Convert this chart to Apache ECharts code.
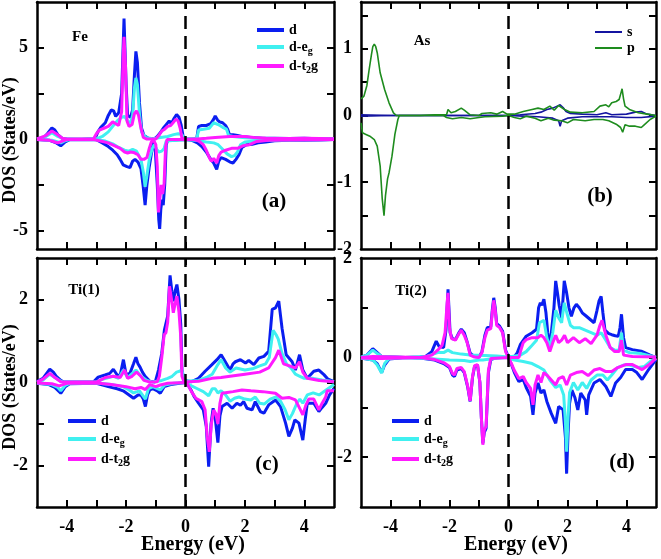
<!DOCTYPE html>
<html>
<head>
<meta charset="utf-8">
<script src="https://cdn.jsdelivr.net/npm/echarts@6/dist/echarts.min.js"></script>
<style>html,body{margin:0;padding:0;background:#fff;}#chart{width:661px;height:559px;}</style>
</head>
<body>
<div id="chart"></div>
<script>
// ---------- axis ticks / labels ----------
const energyTicks = [-4, -3, -2, -1, 0, 1, 2, 3, 4];
const energyLabels = [-4, -2, 0, 2, 4];
const feYTicks = [-5, -2.5, 0, 2.5, 5];
const feYLabels = [-5, 0, 5];
const asYTicks = [-1.5, -1, -0.5, 0, 0.5, 1, 1.5];
const asYLabels = [-2, -1, 0, 1];
const ti1YTicks = [-2, -1, 0, 1, 2];
const ti1YLabels = [-2, 0, 2];
const ti2YTicks = [-2, -1, 0, 1];
const ti2YLabels = [-2, 0, 2];
const dNames = ['d', 'd-eg', 'd-t2g'];
const asNames = ['s', 'p'];

// ---------- Fe ----------
const feDUp = [[-5,0.02],[-4.8,0.05],[-4.65,0.3],[-4.5,0.62],[-4.4,0.5],[-4.3,0.25],[-4.15,0.05],[-4.0,0.01],[-3.5,0],[-3.05,0.02],[-2.95,0.4],[-2.85,0.65],[-2.7,0.9],[-2.6,1.3],[-2.5,1.6],[-2.42,1.55],[-2.35,1.25],[-2.25,1.45],[-2.15,2.5],[-2.07,6.6],[-2.0,3.0],[-1.95,1.3],[-1.85,1.2],[-1.78,1.6],[-1.72,3.5],[-1.67,4.8],[-1.62,4.2],[-1.55,2.0],[-1.48,0.6],[-1.4,0.2],[-1.25,0.05],[-1.05,0.02],[-0.95,0.15],[-0.85,0.35],[-0.75,0.6],[-0.65,0.8],[-0.55,1.0],[-0.48,0.85],[-0.4,1.1],[-0.3,1.35],[-0.22,1.2],[-0.15,0.8],[-0.08,0.15],[0,0.02],[0.2,0.01],[0.38,0.05],[0.44,0.7],[0.55,0.75],[0.7,0.75],[0.85,0.85],[0.95,1.1],[1.0,1.27],[1.08,1.05],[1.15,0.95],[1.25,0.9],[1.35,0.75],[1.42,0.55],[1.48,0.25],[1.6,0.25],[1.75,0.2],[1.9,0.15],[2.2,0.1],[2.6,0.05],[3.0,0.05],[3.5,0.04],[4.0,0.05],[4.5,0.03],[5,0.02]];
const feEgUp = [[-5,0.02],[-4.7,0.15],[-4.5,0.35],[-4.3,0.15],[-4.1,0.02],[-3.5,0],[-3.0,0.02],[-2.8,0.15],[-2.6,0.4],[-2.45,0.7],[-2.3,1.0],[-2.15,1.2],[-2.05,1.25],[-1.95,1.0],[-1.85,0.9],[-1.78,1.3],[-1.72,2.8],[-1.67,3.35],[-1.62,3.0],[-1.55,1.4],[-1.48,0.4],[-1.35,0.1],[-1.1,0.03],[-0.9,0.08],[-0.6,0.15],[-0.4,0.25],[-0.25,0.3],[-0.12,0.25],[-0.05,0.05],[0,0.02],[0.38,0.03],[0.44,0.5],[0.6,0.55],[0.8,0.6],[0.95,0.9],[1.0,1.0],[1.1,0.8],[1.25,0.65],[1.38,0.55],[1.45,0.2],[1.6,0.15],[2.0,0.08],[2.5,0.04],[3,0.03],[4,0.03],[5,0.02]];
const feT2gUp = [[-5,0.02],[-4.7,0.2],[-4.5,0.45],[-4.35,0.3],[-4.15,0.05],[-4.0,0.01],[-3.1,0.01],[-3.0,0.3],[-2.9,0.5],[-2.75,0.6],[-2.6,0.7],[-2.45,0.95],[-2.35,0.85],[-2.25,0.75],[-2.15,1.5],[-2.1,4.5],[-2.07,5.6],[-2.02,4.0],[-1.97,1.0],[-1.9,0.7],[-1.8,0.8],[-1.72,1.4],[-1.65,1.55],[-1.58,1.3],[-1.5,0.6],[-1.42,0.1],[-1.3,0.01],[-1.0,0.01],[-0.9,0.2],[-0.8,0.45],[-0.7,0.55],[-0.6,0.7],[-0.5,0.75],[-0.42,0.9],[-0.32,1.1],[-0.25,1.0],[-0.18,0.6],[-0.12,0.05],[0,0.01],[0.4,0.01],[0.7,0.05],[1.0,0.1],[1.5,0.15],[2.0,0.15],[2.3,0.1],[2.7,0.05],[3.5,0.04],[4.0,0.05],[5,0.02]];
const feDDown = [[-5,-0.02],[-4.6,-0.05],[-4.35,-0.2],[-4.2,-0.36],[-4.05,-0.15],[-3.9,-0.03],[-3.0,-0.02],[-2.8,-0.2],[-2.6,-0.4],[-2.45,-0.6],[-2.3,-0.85],[-2.2,-1.1],[-2.1,-1.4],[-1.97,-1.5],[-1.87,-1.55],[-1.78,-1.2],[-1.7,-1.1],[-1.6,-1.25],[-1.5,-1.6],[-1.43,-2.5],[-1.36,-3.6],[-1.3,-2.5],[-1.22,-1.5],[-1.15,-0.8],[-1.08,-0.15],[-1.02,-0.5],[-0.95,-2.5],[-0.9,-4.4],[-0.87,-4.9],[-0.83,-3.8],[-0.79,-3.3],[-0.75,-3.6],[-0.7,-2.5],[-0.65,-0.3],[-0.6,-0.05],[0,-0.02],[0.2,-0.05],[0.4,-0.2],[0.55,-0.4],[0.7,-0.7],[0.85,-1.1],[0.95,-1.3],[1.05,-1.65],[1.12,-1.2],[1.2,-1.0],[1.35,-1.1],[1.5,-1.25],[1.6,-1.3],[1.7,-1.1],[1.8,-0.85],[1.9,-0.45],[2.05,-0.3],[2.25,-0.27],[2.45,-0.2],[2.7,-0.15],[3.0,-0.08],[3.5,-0.06],[4.0,-0.06],[4.5,-0.04],[5,-0.02]];
const feEgDown = [[-5,-0.01],[-4.5,-0.05],[-4.3,-0.15],[-4.2,-0.2],[-4.05,-0.08],[-3.9,-0.02],[-3.0,-0.01],[-2.7,-0.1],[-2.45,-0.25],[-2.25,-0.45],[-2.05,-0.6],[-1.9,-0.65],[-1.78,-0.55],[-1.65,-0.65],[-1.5,-1.1],[-1.42,-1.8],[-1.36,-2.6],[-1.3,-2.0],[-1.22,-1.1],[-1.12,-0.5],[-1.05,-0.3],[-0.97,-0.55],[-0.9,-0.7],[-0.8,-0.65],[-0.72,-0.5],[-0.65,-0.1],[-0.6,-0.02],[0,-0.01],[0.3,-0.05],[0.5,-0.1],[0.7,-0.15],[0.95,-0.2],[1.1,-0.3],[1.25,-0.55],[1.4,-0.8],[1.55,-0.95],[1.65,-0.9],[1.75,-0.7],[1.85,-0.3],[2.0,-0.15],[2.3,-0.1],[2.8,-0.06],[3.5,-0.04],[4.5,-0.03],[5,-0.02]];
const feT2gDown = [[-5,-0.01],[-4.6,-0.05],[-4.4,-0.15],[-4.3,-0.2],[-4.15,-0.1],[-4.0,-0.02],[-3.1,-0.01],[-2.9,-0.08],[-2.6,-0.2],[-2.4,-0.35],[-2.2,-0.5],[-2.05,-0.7],[-1.95,-0.75],[-1.85,-0.7],[-1.75,-0.72],[-1.6,-0.85],[-1.5,-1.1],[-1.4,-1.1],[-1.3,-1.0],[-1.22,-0.5],[-1.15,-0.15],[-1.08,-0.02],[-1.0,-0.3],[-0.95,-1.5],[-0.91,-4.0],[-0.86,-3.2],[-0.82,-2.5],[-0.77,-3.0],[-0.72,-2.4],[-0.67,-0.4],[-0.62,-0.02],[0,-0.01],[0.3,-0.02],[0.45,-0.1],[0.6,-0.3],[0.7,-0.6],[0.8,-1.0],[0.87,-1.2],[0.95,-1.05],[1.05,-1.3],[1.12,-0.9],[1.2,-0.7],[1.35,-0.6],[1.55,-0.5],[1.75,-0.5],[1.95,-0.35],[2.15,-0.3],[2.4,-0.12],[2.8,-0.05],[3.5,-0.04],[4.5,-0.03],[5,-0.01]];

// ---------- As ----------
const asSUp = [[-5,0.01],[-4,0.0],[-1,0.0],[0,0],[0.4,0.01],[0.9,0.03],[1.1,0.05],[1.3,0.09],[1.5,0.11],[1.65,0.14],[1.75,0.16],[1.85,0.12],[1.95,0.06],[2.1,0.03],[2.5,0.02],[3.0,0.01],[3.3,0.04],[3.5,0.01],[4.0,0.02],[4.3,0.05],[4.5,0.06],[4.7,0.02],[5,0.0]];
const asSDown = [[-5,-0.01],[-4,0.0],[0,0],[0.5,-0.01],[1.0,-0.02],[1.5,-0.04],[1.7,-0.08],[1.75,-0.16],[1.8,-0.08],[2.0,-0.04],[2.5,-0.02],[3.5,-0.02],[4.0,-0.03],[4.5,-0.03],[5,-0.01]];
const asPUp = [[-5,0.25],[-4.9,0.29],[-4.8,0.45],[-4.72,0.7],[-4.65,0.9],[-4.6,1.03],[-4.55,1.07],[-4.5,1.03],[-4.45,0.94],[-4.35,0.64],[-4.2,0.39],[-4.05,0.19],[-3.9,0.04],[-3.8,0.0],[-3,0.0],[-2.5,0.01],[-2.1,0.01],[-2.05,0.09],[-1.95,0.04],[-1.8,0.06],[-1.6,0.11],[-1.5,0.08],[-1.3,0.01],[-1.0,0.0],[-0.9,0.03],[-0.6,0.04],[-0.4,0.02],[-0.2,0.06],[-0.05,0.02],[0,0],[0.2,0.02],[0.5,0.06],[0.8,0.09],[1.0,0.11],[1.2,0.09],[1.4,0.14],[1.55,0.08],[1.7,0.15],[1.9,0.09],[2.1,0.05],[2.5,0.04],[2.9,0.06],[3.1,0.14],[3.3,0.16],[3.4,0.13],[3.5,0.19],[3.65,0.21],[3.75,0.24],[3.82,0.35],[3.85,0.4],[3.9,0.25],[3.95,0.14],[4.1,0.09],[4.4,0.04],[4.7,0.02],[5,0.0]];
const asPDown = [[-5,-0.11],[-4.95,-0.26],[-4.85,-0.28],[-4.7,-0.31],[-4.55,-0.36],[-4.45,-0.46],[-4.35,-0.76],[-4.28,-1.25],[-4.22,-1.5],[-4.17,-1.2],[-4.1,-0.95],[-4.05,-0.86],[-3.95,-0.61],[-3.85,-0.28],[-3.75,-0.06],[-3.7,0],[-2.2,0],[-2.1,-0.03],[-1.9,-0.05],[-1.6,-0.03],[-1.3,-0.05],[-1.0,-0.03],[-0.8,-0.02],[-0.2,-0.01],[0,0],[0.2,-0.03],[0.4,-0.05],[0.6,-0.01],[0.9,-0.04],[1.1,-0.08],[1.35,-0.04],[1.55,-0.07],[1.8,-0.08],[2.0,-0.11],[2.2,-0.06],[2.6,-0.08],[2.9,-0.06],[3.2,-0.06],[3.4,-0.08],[3.65,-0.13],[3.8,-0.18],[3.87,-0.25],[3.95,-0.14],[4.1,-0.16],[4.3,-0.16],[4.5,-0.18],[4.6,-0.14],[4.8,-0.06],[5,-0.01]];

// ---------- Ti(1) ----------
const ti1DUp = [[-5,0.02],[-4.8,0.1],[-4.57,0.32],[-4.45,0.25],[-4.35,0.15],[-4.2,0.05],[-4.1,0.01],[-3.1,0.01],[-2.94,0.13],[-2.71,0.18],[-2.55,0.22],[-2.43,0.32],[-2.3,0.18],[-2.2,0.17],[-2.09,0.55],[-2.0,0.19],[-1.87,0.22],[-1.75,0.45],[-1.67,0.61],[-1.6,0.45],[-1.53,0.37],[-1.45,0.25],[-1.36,0.15],[-1.2,0.03],[-1.02,0.01],[-0.91,0.3],[-0.8,0.7],[-0.71,1.27],[-0.65,1.25],[-0.6,1.6],[-0.52,2.58],[-0.46,2.2],[-0.41,1.96],[-0.35,2.2],[-0.29,2.36],[-0.22,2.0],[-0.16,1.4],[-0.12,0.3],[-0.05,0.05],[0,0.02],[0.21,0.02],[0.44,0.1],[0.66,0.27],[0.89,0.43],[1.06,0.55],[1.2,0.67],[1.34,0.5],[1.5,0.3],[1.6,0.45],[1.68,0.5],[1.85,0.55],[2.02,0.47],[2.13,0.53],[2.3,0.43],[2.47,0.59],[2.64,0.63],[2.8,0.75],[2.92,1.76],[3.03,1.8],[3.14,1.96],[3.25,1.31],[3.39,0.67],[3.59,0.5],[3.7,0.3],[3.84,0.67],[3.95,0.3],[4.1,0.1],[4.32,0.27],[4.49,0.3],[4.66,0.19],[4.8,0.08],[5,0.02]];
const ti1EgUp = [[-5,0.01],[-4.8,0.06],[-4.57,0.2],[-4.4,0.12],[-4.2,0.03],[-4.1,0.01],[-3.0,0.01],[-2.8,0.08],[-2.43,0.15],[-2.25,0.1],[-2.09,0.3],[-1.95,0.12],[-1.67,0.3],[-1.5,0.15],[-1.3,0.05],[-1.1,0.01],[-0.8,0.05],[-0.6,0.1],[-0.45,0.15],[-0.3,0.25],[-0.2,0.27],[-0.13,0.3],[-0.08,0.2],[-0.03,0.03],[0,0.01],[0.44,0.05],[0.7,0.12],[0.9,0.2],[1.06,0.4],[1.2,0.55],[1.35,0.35],[1.5,0.25],[1.7,0.35],[2.0,0.3],[2.25,0.33],[2.5,0.4],[2.7,0.45],[2.82,0.6],[2.95,1.26],[3.05,1.15],[3.12,1.05],[3.25,0.7],[3.4,0.45],[3.55,0.35],[3.7,0.2],[3.85,0.15],[4.0,0.1],[4.3,0.1],[4.6,0.06],[5,0.02]];
const ti1T2gUp = [[-5,0.01],[-4.8,0.08],[-4.57,0.22],[-4.4,0.12],[-4.2,0.02],[-3.0,0.01],[-2.8,0.08],[-2.7,0.12],[-2.43,0.15],[-2.2,0.12],[-2.05,0.3],[-1.95,0.1],[-1.8,0.15],[-1.65,0.25],[-1.5,0.15],[-1.4,0.05],[-1.2,0.01],[-0.95,0.02],[-0.88,0.15],[-0.8,0.6],[-0.72,1.15],[-0.66,1.2],[-0.6,1.45],[-0.54,2.32],[-0.47,2.0],[-0.41,1.68],[-0.35,1.9],[-0.29,2.08],[-0.22,1.7],[-0.16,1.1],[-0.12,0.15],[-0.05,0.01],[0,0],[0.44,0.03],[0.89,0.1],[1.2,0.12],[1.5,0.15],[2.0,0.2],[2.5,0.25],[2.8,0.35],[3.03,0.6],[3.14,0.78],[3.3,0.45],[3.5,0.4],[3.7,0.35],[3.84,0.5],[3.95,0.25],[4.1,0.1],[4.5,0.05],[5,0.02]];
const ti1DDown = [[-5,-0.02],[-4.6,-0.05],[-4.4,-0.12],[-4.2,-0.26],[-4.05,-0.1],[-3.9,-0.03],[-3.0,-0.02],[-2.6,-0.1],[-2.3,-0.15],[-2.1,-0.2],[-1.9,-0.3],[-1.75,-0.38],[-1.6,-0.3],[-1.5,-0.3],[-1.42,-0.4],[-1.35,-0.58],[-1.28,-0.3],[-1.2,-0.18],[-1.1,-0.15],[-0.95,-0.2],[-0.85,-0.26],[-0.72,-0.1],[-0.5,-0.05],[-0.2,-0.02],[0,0],[0.1,-0.08],[0.2,-0.2],[0.3,-0.35],[0.44,-0.5],[0.6,-0.66],[0.7,-1.06],[0.78,-2.03],[0.86,-1.0],[0.93,-0.62],[1.0,-0.85],[1.09,-1.45],[1.16,-0.8],[1.23,-0.58],[1.4,-0.5],[1.57,-0.62],[1.73,-0.5],[1.85,-0.55],[1.96,-0.46],[2.07,-0.62],[2.24,-0.66],[2.35,-0.46],[2.52,-0.7],[2.64,-0.74],[2.8,-0.54],[3.03,-0.42],[3.2,-0.58],[3.37,-0.98],[3.48,-1.3],[3.6,-1.1],[3.68,-0.9],[3.82,-0.98],[3.95,-1.39],[4.03,-0.9],[4.1,-0.5],[4.32,-0.5],[4.49,-0.7],[4.6,-0.6],[4.72,-0.5],[4.85,-0.3],[5,-0.14]];
const ti1EgDown = [[-5,-0.01],[-4.5,-0.05],[-4.3,-0.12],[-4.2,-0.2],[-4.05,-0.07],[-3.9,-0.02],[-3.0,-0.01],[-2.5,-0.05],[-2.1,-0.1],[-1.9,-0.18],[-1.75,-0.25],[-1.55,-0.2],[-1.35,-0.4],[-1.25,-0.15],[-1.1,-0.1],[-0.85,-0.18],[-0.7,-0.06],[-0.4,-0.02],[0,0],[0.2,-0.08],[0.4,-0.15],[0.6,-0.22],[0.78,-0.32],[0.9,-0.15],[1.0,-0.15],[1.09,-0.25],[1.2,-0.2],[1.35,-0.3],[1.5,-0.45],[1.65,-0.38],[1.8,-0.35],[2.0,-0.4],[2.2,-0.42],[2.35,-0.35],[2.5,-0.5],[2.65,-0.52],[2.85,-0.4],[3.05,-0.35],[3.2,-0.45],[3.35,-0.65],[3.48,-0.9],[3.6,-0.75],[3.75,-0.5],[3.85,-0.4],[3.95,-0.5],[4.1,-0.3],[4.3,-0.25],[4.5,-0.3],[4.7,-0.2],[5,-0.05]];
const ti1T2gDown = [[-5,-0.01],[-4.5,-0.03],[-4.25,-0.08],[-4.0,-0.02],[-3.0,-0.01],[-2.5,-0.05],[-2.0,-0.1],[-1.7,-0.15],[-1.5,-0.12],[-1.35,-0.17],[-1.2,-0.05],[-1.0,-0.1],[-0.85,-0.06],[-0.6,-0.02],[0,0],[0.08,-0.05],[0.2,-0.22],[0.35,-0.38],[0.55,-0.46],[0.66,-0.66],[0.73,-1.3],[0.8,-1.67],[0.87,-1.0],[0.95,-0.66],[1.02,-0.75],[1.09,-1.0],[1.16,-0.5],[1.23,-0.26],[1.4,-0.24],[1.6,-0.22],[1.9,-0.18],[2.2,-0.2],[2.6,-0.22],[3.03,-0.26],[3.25,-0.38],[3.48,-0.36],[3.7,-0.42],[3.87,-0.66],[3.95,-0.78],[4.05,-0.55],[4.15,-0.4],[4.32,-0.4],[4.49,-0.66],[4.6,-0.5],[4.72,-0.35],[4.77,-0.2],[5,-0.2]];

// ---------- Ti(2) ----------
const ti2DUp = [[-5,0.01],[-4.8,0.05],[-4.6,0.18],[-4.45,0.1],[-4.3,0.02],[-3.5,0],[-3.0,0.01],[-2.8,0.03],[-2.6,0.12],[-2.45,0.33],[-2.35,0.22],[-2.2,0.2],[-2.12,0.55],[-2.05,1.37],[-1.98,0.5],[-1.9,0.38],[-1.8,0.36],[-1.68,0.5],[-1.6,0.57],[-1.5,0.5],[-1.42,0.35],[-1.3,0.09],[-1.15,0.02],[-1.0,0.01],[-0.9,0.12],[-0.8,0.45],[-0.72,0.6],[-0.6,0.62],[-0.55,0.95],[-0.5,1.2],[-0.45,1.0],[-0.4,0.68],[-0.3,0.63],[-0.2,0.53],[-0.1,0.15],[0,0.01],[0.2,0.02],[0.3,0.1],[0.4,0.26],[0.6,0.43],[0.8,0.5],[0.95,0.57],[1.02,1.0],[1.08,1.1],[1.13,1.05],[1.2,1.17],[1.27,0.9],[1.33,0.5],[1.4,0.2],[1.47,0.6],[1.54,1.0],[1.6,1.54],[1.66,1.3],[1.72,1.04],[1.8,0.8],[1.85,1.2],[1.89,1.54],[1.97,1.3],[2.05,1.0],[2.13,0.83],[2.22,1.0],[2.3,1.07],[2.4,1.0],[2.5,0.9],[2.6,0.85],[2.7,0.8],[2.8,0.75],[2.9,0.7],[3.0,0.95],[3.07,1.14],[3.14,1.23],[3.2,0.9],[3.27,0.55],[3.4,0.48],[3.5,0.46],[3.62,0.44],[3.72,0.43],[3.78,0.6],[3.83,0.87],[3.9,0.4],[3.97,0.2],[4.2,0.16],[4.5,0.13],[4.8,0.05],[5,0]];
const ti2EgUp = [[-5,0.01],[-4.8,0.05],[-4.6,0.15],[-4.45,0.08],[-4.3,0.02],[-3.5,0],[-2.8,0.02],[-2.5,0.08],[-2.4,0.1],[-2.2,0.1],[-2.05,0.15],[-1.9,0.1],[-1.6,0.07],[-1.3,0.05],[-0.8,0.04],[-0.4,0.03],[0,0.01],[0.4,0.05],[0.6,0.12],[0.8,0.25],[0.95,0.35],[1.05,0.7],[1.2,0.75],[1.3,0.4],[1.4,0.2],[1.5,0.5],[1.6,0.95],[1.7,0.8],[1.8,0.7],[1.89,1.1],[2.0,0.85],[2.1,0.65],[2.2,0.6],[2.4,0.6],[2.6,0.55],[2.8,0.5],[3.0,0.45],[3.14,0.5],[3.3,0.35],[3.45,0.2],[3.6,0.15],[3.75,0.15],[3.83,0.5],[3.9,0.15],[4.1,0.1],[4.5,0.08],[5,0.01]];
const ti2T2gUp = [[-5,0.0],[-4.6,0.02],[-3,0.0],[-2.6,0.05],[-2.4,0.15],[-2.25,0.25],[-2.15,0.5],[-2.08,1.1],[-2.05,1.3],[-2.0,0.6],[-1.93,0.38],[-1.8,0.35],[-1.68,0.48],[-1.6,0.55],[-1.5,0.45],[-1.4,0.3],[-1.3,0.05],[-1.15,0.01],[-1.0,0.0],[-0.9,0.1],[-0.8,0.4],[-0.72,0.55],[-0.6,0.58],[-0.55,0.9],[-0.5,1.15],[-0.45,0.95],[-0.4,0.65],[-0.3,0.6],[-0.2,0.5],[-0.1,0.12],[0,0],[0.35,0.0],[0.42,0.15],[0.5,0.3],[0.6,0.36],[0.8,0.4],[1.0,0.4],[1.1,0.45],[1.2,0.4],[1.3,0.3],[1.4,0.12],[1.5,0.3],[1.6,0.45],[1.7,0.3],[1.8,0.35],[1.9,0.45],[2.0,0.3],[2.2,0.4],[2.4,0.3],[2.6,0.38],[2.8,0.28],[3.0,0.45],[3.1,0.65],[3.17,0.75],[3.3,0.45],[3.45,0.2],[3.6,0.12],[3.75,0.12],[3.83,0.35],[3.9,0.05],[4.2,0.02],[5,0.01]];
const ti2DDown = [[-5,-0.01],[-4.6,-0.05],[-4.45,-0.12],[-4.3,-0.3],[-4.2,-0.15],[-4.05,-0.03],[-3.5,0],[-3.0,-0.01],[-2.5,-0.05],[-2.2,-0.12],[-2.0,-0.2],[-1.9,-0.35],[-1.83,-0.38],[-1.75,-0.25],[-1.6,-0.22],[-1.5,-0.3],[-1.38,-0.6],[-1.3,-0.88],[-1.22,-0.4],[-1.15,-0.18],[-1.05,-0.15],[-0.97,-0.5],[-0.92,-1.2],[-0.87,-1.72],[-0.82,-1.5],[-0.76,-1.42],[-0.71,-1.42],[-0.68,-0.3],[-0.6,-0.04],[-0.4,0],[0,0],[0.1,-0.14],[0.2,-0.3],[0.35,-0.48],[0.5,-0.44],[0.6,-0.6],[0.75,-0.78],[0.83,-1.15],[0.9,-0.71],[1.0,-0.51],[1.1,-0.71],[1.2,-0.65],[1.3,-0.88],[1.45,-1.12],[1.6,-1.32],[1.7,-0.98],[1.85,-1.05],[1.93,-1.6],[1.97,-2.33],[2.02,-1.5],[2.07,-0.92],[2.15,-0.65],[2.25,-0.8],[2.35,-1.05],[2.45,-0.71],[2.6,-0.85],[2.65,-1.15],[2.72,-0.75],[2.9,-0.51],[3.1,-0.44],[3.3,-0.58],[3.47,-0.78],[3.63,-0.51],[3.8,-0.4],[3.97,-0.24],[4.2,-0.24],[4.35,-0.3],[4.53,-0.44],[4.75,-0.24],[5,-0.04]];
const ti2EgDown = [[-5,-0.01],[-4.6,-0.05],[-4.45,-0.15],[-4.3,-0.31],[-4.2,-0.12],[-4.05,-0.02],[-3.5,0],[-2.5,-0.03],[-2.0,-0.05],[-1.5,-0.06],[-1.3,-0.08],[-1.0,-0.05],[-0.87,-0.05],[-0.5,-0.02],[0,0],[0.2,-0.05],[0.5,-0.08],[0.8,-0.12],[1.0,-0.18],[1.2,-0.25],[1.4,-0.45],[1.6,-0.6],[1.75,-0.55],[1.87,-0.75],[1.93,-1.3],[1.97,-1.89],[2.02,-1.2],[2.07,-0.7],[2.2,-0.5],[2.35,-0.65],[2.5,-0.5],[2.65,-0.62],[2.8,-0.45],[3.0,-0.35],[3.2,-0.35],[3.35,-0.45],[3.5,-0.35],[3.7,-0.2],[3.9,-0.15],[4.1,-0.15],[4.4,-0.2],[4.6,-0.18],[4.8,-0.08],[5,-0.01]];
const ti2T2gDown = [[-5,-0.01],[-4.5,-0.02],[-4.3,-0.02],[-3,0],[-2.5,-0.04],[-2.2,-0.1],[-2.0,-0.18],[-1.9,-0.32],[-1.83,-0.35],[-1.75,-0.22],[-1.6,-0.2],[-1.5,-0.28],[-1.38,-0.58],[-1.3,-0.87],[-1.22,-0.38],[-1.15,-0.16],[-1.05,-0.14],[-0.97,-0.5],[-0.92,-1.2],[-0.87,-1.75],[-0.82,-1.45],[-0.76,-1.38],[-0.71,-1.4],[-0.68,-0.25],[-0.6,-0.02],[0,0],[0.1,-0.12],[0.2,-0.26],[0.35,-0.42],[0.5,-0.38],[0.6,-0.5],[0.75,-0.62],[0.83,-0.95],[0.9,-0.55],[1.0,-0.35],[1.1,-0.5],[1.2,-0.3],[1.3,-0.35],[1.45,-0.45],[1.6,-0.55],[1.7,-0.42],[1.85,-0.38],[1.97,-0.55],[2.1,-0.35],[2.3,-0.3],[2.5,-0.28],[2.7,-0.36],[2.9,-0.25],[3.1,-0.22],[3.3,-0.28],[3.5,-0.28],[3.7,-0.2],[3.97,-0.14],[4.2,-0.14],[4.53,-0.24],[4.75,-0.15],[5,-0.01]];

// ---------- styling ----------
const FONT = '"Liberation Serif", "DejaVu Serif", serif';
const C_D = '#0a1ef0', C_EG = '#40f0f0', C_T2G = '#ff1aff';
const C_S = '#1414a0', C_P = '#1e8c1e';

const panels = [
  { left: 37, top: 2, width: 297, height: 247, min: -6, max: 7.5, ticks: feYTicks, labels: feYLabels, xLabels: false },
  { left: 361, top: 2, width: 295, height: 247, min: -2, max: 1.7, ticks: asYTicks, labels: asYLabels, xLabels: false },
  { left: 37, top: 258, width: 297, height: 249, min: -3, max: 3, ticks: ti1YTicks, labels: ti1YLabels, xLabels: true },
  { left: 361, top: 258, width: 295, height: 249, min: -3, max: 2, ticks: ti2YTicks, labels: ti2YLabels, xLabels: true }
];

const grid = [], xAxis = [], yAxis = [];
const frameLine = { show: true, onZero: false, lineStyle: { color: '#000', width: 2.5 } };
const tickStyle = { inside: true, length: 7, lineStyle: { color: '#000', width: 2 } };
const labelStyle = { color: '#000', fontFamily: FONT, fontWeight: 'bold', fontSize: 18 };

panels.forEach((p, i) => {
  grid.push({ left: p.left, top: p.top, width: p.width, height: p.height, containLabel: false });
  xAxis.push({
    type: 'value', gridIndex: i, position: 'bottom', min: -5, max: 5,
    axisLine: frameLine, splitLine: { show: false },
    axisTick: Object.assign({ customValues: energyTicks }, tickStyle),
    axisLabel: Object.assign({ show: p.xLabels, customValues: energyLabels, margin: 11 }, labelStyle)
  });
  xAxis.push({
    type: 'value', gridIndex: i, position: 'top', min: -5, max: 5,
    axisLine: frameLine, splitLine: { show: false },
    axisTick: Object.assign({ customValues: energyTicks }, tickStyle),
    axisLabel: { show: false }
  });
  yAxis.push({
    type: 'value', gridIndex: i, position: 'left', min: p.min, max: p.max,
    axisLine: frameLine, splitLine: { show: false },
    axisTick: Object.assign({ customValues: p.ticks }, tickStyle),
    axisLabel: Object.assign({ customValues: p.labels, margin: 9, showMinLabel: true, showMaxLabel: true }, labelStyle)
  });
  yAxis.push({
    type: 'value', gridIndex: i, position: 'right', min: p.min, max: p.max,
    axisLine: frameLine, splitLine: { show: false },
    axisTick: Object.assign({ customValues: p.ticks }, tickStyle),
    axisLabel: { show: false }
  });
});

function line(name, data, color, gi, width, withMark) {
  const s = {
    type: 'line', name: name, data: data, xAxisIndex: 2 * gi, yAxisIndex: 2 * gi,
    symbol: 'none', showSymbol: false, clip: true,
    lineStyle: { color: color, width: width }, itemStyle: { color: color },
    emphasis: { disabled: true }, z: 2
  };
  if (withMark) {
    s.markLine = {
      silent: true, symbol: 'none', label: { show: false },
      lineStyle: { color: '#000', width: 2.5, type: [13, 7] },
      data: [{ xAxis: 0 }], animation: false
    };
  }
  return s;
}

const series = [
  line('d', feDUp, C_D, 0, 3, true), line('d', feDDown, C_D, 0, 3),
  line('d-eg', feEgUp, C_EG, 0, 3), line('d-eg', feEgDown, C_EG, 0, 3),
  line('d-t2g', feT2gUp, C_T2G, 0, 3), line('d-t2g', feT2gDown, C_T2G, 0, 3),

  line('s', asSUp, C_S, 1, 1.6, true), line('s', asSDown, C_S, 1, 1.6),
  line('p', asPUp, C_P, 1, 1.6), line('p', asPDown, C_P, 1, 1.6),

  line('d', ti1DUp, C_D, 2, 3, true), line('d', ti1DDown, C_D, 2, 3),
  line('d-eg', ti1EgUp, C_EG, 2, 3), line('d-eg', ti1EgDown, C_EG, 2, 3),
  line('d-t2g', ti1T2gUp, C_T2G, 2, 3), line('d-t2g', ti1T2gDown, C_T2G, 2, 3),

  line('d', ti2DUp, C_D, 3, 3, true), line('d', ti2DDown, C_D, 3, 3),
  line('d-eg', ti2EgUp, C_EG, 3, 3), line('d-eg', ti2EgDown, C_EG, 3, 3),
  line('d-t2g', ti2T2gUp, C_T2G, 3, 3), line('d-t2g', ti2T2gDown, C_T2G, 3, 3)
];

const legendRich = {
  n: { fontFamily: FONT, fontWeight: 'bold', fontSize: 14, color: '#000' },
  s: { fontFamily: FONT, fontWeight: 'bold', fontSize: 10, color: '#000', verticalAlign: 'bottom', padding: [8, 0, 0, 0] }
};
function legendFmt(name) {
  if (name === 'd-eg') return '{n|d-e}{s|g}';
  if (name === 'd-t2g') return '{n|d-t}{s|2}{n|g}';
  return '{n|' + name + '}';
}
function makeLegend(names, left, top, itemW, itemH, gap) {
  return {
    data: names, orient: 'vertical', left: left, top: top, selectedMode: false,
    icon: 'rect', itemWidth: itemW, itemHeight: itemH, itemGap: gap, padding: 0,
    formatter: legendFmt, textStyle: { rich: legendRich, fontFamily: FONT, fontWeight: 'bold', fontSize: 14 }
  };
}

const legend = [
  makeLegend(dNames, 257, 23, 27, 4, 3),
  makeLegend(asNames, 595, 25, 27, 2, 2),
  makeLegend(dNames, 68, 414, 28, 4, 4),
  makeLegend(dNames, 392, 414, 27, 4, 4)
];

function txt(text, x, y, size, rot) {
  return {
    type: 'text', x: x, y: y, rotation: rot || 0, silent: true, z: 100,
    style: { text: text, fill: '#000', font: 'bold ' + size + 'px ' + FONT, textAlign: 'center', textVerticalAlign: 'middle' }
  };
}

const graphic = [
  txt('Fe', 80, 37, 15), txt('As', 422, 41, 15), txt('Ti(1)', 84, 290, 15), txt('Ti(2)', 411, 291, 15),
  txt('(a)', 274, 202, 21), txt('(b)', 600, 197, 21), txt('(c)', 267, 465, 21), txt('(d)', 622, 463, 21),
  txt('DOS (States/eV)', 10, 140, 18, Math.PI / 2), txt('DOS (States/eV)', 10, 387, 18, Math.PI / 2),
  txt('Energy (eV)', 193, 545, 20), txt('Energy (eV)', 516, 545, 20)
];

const chart = echarts.init(document.getElementById('chart'), null, { renderer: 'canvas' });
chart.setOption({
  animation: false,
  backgroundColor: '#fff',
  grid: grid, xAxis: xAxis, yAxis: yAxis, series: series,
  legend: legend, graphic: graphic
});
</script>
</body>
</html>
